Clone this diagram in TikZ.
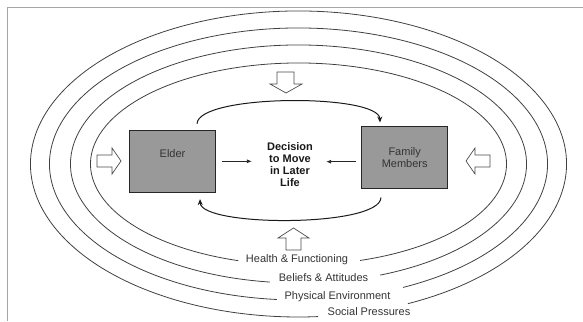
\documentclass[tikz,border=0pt]{standalone}
\usepackage{fontspec}
\setmainfont{Liberation Sans}
\usetikzlibrary{arrows.meta}
\begin{document}
\begin{tikzpicture}[x=1pt,y=1pt,
  ring/.style={draw=black!75, line width=0.8pt},
  bigarrow/.style={draw=black!70, line width=0.7pt, fill=white, line join=miter},
  boxnode/.style={draw=black!85, line width=1pt, fill=black!40, minimum width=85.5pt, minimum height=62pt, inner sep=0pt},
  lbl/.style={font=\fontsize{11}{12}\selectfont, text=black!80, inner sep=1pt},
  smallarr/.style={draw=black!85, line width=0.8pt, -{Latex[length=5pt,width=4pt]}},
  curvearr/.style={draw=black!90, line width=1pt, -{Stealth[length=6pt,width=5pt]}},
  frame/.style={draw=black!35, line width=0.8pt}]
\useasboundingbox (0,0) rectangle (583,321);
% frame of the screenshot
\draw[frame] (7,0) -- (7,314) -- (583,314);
% rings
\coordinate (c) at (298.5,157);
\draw[ring] (c) ++(-72.8:208pt and 101pt) arc[start angle=-72.8, end angle=253.2, x radius=208pt, y radius=101pt];
\draw[ring] (c) ++(-69:228pt and 119pt) arc[start angle=-69, end angle=262.8, x radius=228pt, y radius=119pt];
\draw[ring] (c) ++(-65.2:249pt and 136pt) arc[start angle=-65.2, end angle=265, x radius=249pt, y radius=136pt];
\draw[ring] (c) ++(-65.9:268pt and 153pt) arc[start angle=-65.9, end angle=274.2, x radius=268pt, y radius=153pt];
% ring labels
\node[lbl] (health) at (297,61) {Health \& Functioning};
\node[lbl] (beliefs) at (323.5,43) {Beliefs \& Attitudes};
\node[lbl] (physical) at (337.5,24.5) {Physical Environment};
\node[lbl] (social) at (369,9) {Social Pressures};
% boxes
\node[boxnode, label={[lbl, yshift=8pt]center:Elder}] (elder) at (172.5,159.7) {};
\node[boxnode, lbl, align=center, draw=black!85, fill=black!40, minimum width=86pt, minimum height=62pt] (fam) at (404.7,163) {Family\\Members};
% decision
\node[font=\fontsize{11}{12}\selectfont\bfseries, text=black!90, align=center, inner sep=0pt] (dec) at (290,156.5) {Decision\\to Move\\in Later\\Life};
% small arrows
\draw[smallarr, shorten <=6.7pt, shorten >=15pt] (elder.east) -- (elder.east -| dec.west);
\draw[smallarr, shorten <=5.7pt, shorten >=13pt] ([yshift=-3.7pt]fam.west) -- ([yshift=-3.7pt]fam.west -| dec.east);
% curved arrows
\draw[curvearr] ([xshift=24.5pt,yshift=6pt]elder.north) .. controls +(1,30) and +(-1,29) .. ([xshift=-24.7pt,yshift=4pt]fam.north);
\draw[curvearr] ([xshift=-23.7pt,yshift=-8pt]fam.south) .. controls +(-1,-30) and +(1,-28) .. ([xshift=27.5pt,yshift=-6.3pt]elder.south);
% big hollow arrows
\draw[bigarrow] (277,249) -- (294,249) -- (294,237) -- (302,237) -- (286,228) -- (270,237) -- (277,237) -- cycle;
\draw[bigarrow] (286,71) -- (301,71) -- (301,83) -- (309,83) -- (293.5,93) -- (278,83) -- (286,83) -- cycle;
\draw[bigarrow] (97,154) -- (112,154) -- (112,147) -- (121,160) -- (112,173) -- (112,166) -- (97,166) -- cycle;
\draw[bigarrow] (490,154) -- (475,154) -- (475,147) -- (466,160) -- (475,173) -- (475,166) -- (490,166) -- cycle;
\end{tikzpicture}
\end{document}
